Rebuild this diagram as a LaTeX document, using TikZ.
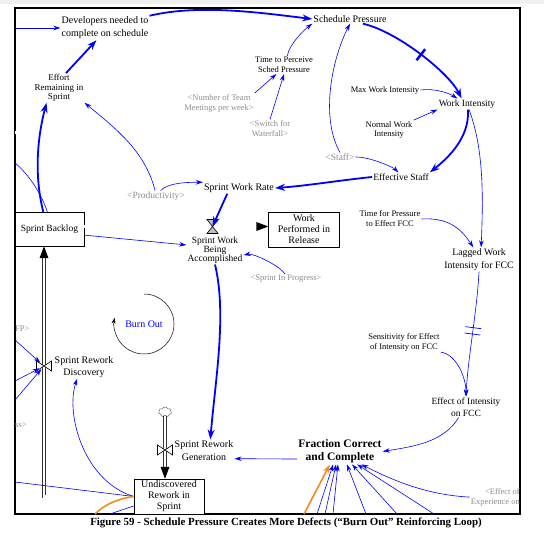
\documentclass[tikz,border=0pt]{standalone}
\usepackage{fontspec}
\setmainfont{Liberation Serif}
\usetikzlibrary{arrows.meta,shapes.symbols}

\definecolor{linkblue}{RGB}{0,0,255}
\definecolor{ghostgray}{RGB}{140,140,140}
\definecolor{burnorange}{RGB}{240,140,30}

\begin{document}
\begin{tikzpicture}[x=1pt,y=-1pt,
    var/.style={align=center,inner sep=1pt,font=\fontsize{9.5}{10}\selectfont},
    smallvar/.style={var,font=\fontsize{8.5}{10}\selectfont},
    shadowvar/.style={smallvar,text=ghostgray},
    stock/.style={draw,fill=white,align=center,inner sep=0pt,minimum width=70pt,minimum height=35pt,font=\fontsize{10}{11}\selectfont},
    link/.style={linkblue,line width=0.6pt,-{Stealth[length=7pt,width=4.5pt]}},
    biglink/.style={linkblue,line width=1.8pt,-{Stealth[length=10pt,width=7pt]}},
    pipe/.style={draw=black!80,double=white,double distance=2.4pt,line width=0.6pt},
    dbar/.style={fill=linkblue,inner sep=0pt,minimum width=0.7pt,minimum height=16pt,sloped},
    bigbar/.style={fill=linkblue,inner sep=0pt,minimum width=2.5pt,minimum height=14pt,sloped},
    hvalve/.pic={\draw [fill=white,line width=0.6pt] (-7.5,-5) -- (7.5,5) -- (7.5,-5) -- (-7.5,5) -- cycle;},
    vvalve/.pic={\draw [fill=black!25,line width=0.6pt] (-5.5,-7) -- (5.5,-7) -- (-5.5,7) -- (5.5,7) -- cycle;}]
    \useasboundingbox (0,0) rectangle (544,534);
    \fill [black!6] (0,0) rectangle (544,4);
    \draw [line width=1.1pt] (15,8) rectangle (520,514);

    % variables
    \node [var,font=\fontsize{10}{13}\selectfont] (Dev) at (105,28) {Developers needed to\\complete on schedule};
    \node [var,font=\fontsize{10}{12}\selectfont] (SchedP) at (350,19) {Schedule Pressure};
    \node [var,font=\fontsize{9}{9.5}\selectfont] (Effort) at (59,88) {Effort\\Remaining in\\Sprint};
    \node [smallvar] (TimeP) at (284,65) {Time to Perceive\\Sched Pressure};
    \node [shadowvar] (Meet) at (219,103) {<Number of Team\\Meetings per week>};
    \node [shadowvar,font=\fontsize{8.5}{9.5}\selectfont] (Switch) at (270,128.5) {<Switch for\\Waterfall>};
    \node [shadowvar,font=\fontsize{9.5}{10}\selectfont] (Staff) at (340,157) {<Staff>};
    \node [smallvar] (MaxWI) at (385,90) {Max Work Intensity};
    \node [var] (WorkI) at (467,104) {Work Intensity};
    \node [smallvar,font=\fontsize{8.5}{9.5}\selectfont] (NormWI) at (389,130) {Normal Work\\Intensity};
    \node [var] (EffStaff) at (401,177) {Effective Staff};
    \node [var,font=\fontsize{10}{12}\selectfont] (Rate) at (239,188) {Sprint Work Rate};
    \node [shadowvar,font=\fontsize{9.5}{10}\selectfont] (Prod) at (156,196) {<Productivity>};
    \node [var,font=\fontsize{9.5}{9}\selectfont] (Accomp) at (215,250) {Sprint Work\\Being\\Accomplished};
    \node [shadowvar] (InProg) at (286,279) {<Sprint In Progress>};
    \node [var,font=\fontsize{10}{12}\selectfont,text=linkblue] (Burn) at (144,324) {Burn Out};
    \node [var,font=\fontsize{10}{12}\selectfont] (Discov) at (84,367) {Sprint Rework\\Discovery};
    \node [var,font=\fontsize{10}{12.5}\selectfont] (Gener) at (204,450.5) {Sprint Rework\\Generation};
    \node [var,font=\bfseries\fontsize{11.5}{13}\selectfont] (FCC) at (340,451.5) {Fraction Correct\\and Complete};
    \node [var,font=\fontsize{9.5}{12}\selectfont] (EffInt) at (466,407) {Effect of Intensity\\on FCC};
    \node [smallvar] (Sens) at (404,342) {Sensitivity for Effect\\of Intensity on FCC};
    \node [var,font=\fontsize{9.8}{13}\selectfont] (Lagged) at (479,259.5) {Lagged Work\\Intensity for FCC};
    \node [smallvar] (TimeFCC) at (390,219) {Time for Pressure\\to Effect FCC};
    \node [shadowvar,align=right,anchor=north east] (ExpFCC) at (521,487) {<Effect of\\Experience on};
    \node [shadowvar,anchor=west,inner sep=0pt] (CutFP) at (15,329) {FP>};
    \node [shadowvar,anchor=west,inner sep=0pt] (CutSs) at (15,425) {ss>};
    \node [cloud,draw=black!70,fill=white,cloud puffs=7,minimum width=13pt,minimum height=10pt,inner sep=0pt] (Cloud) at (165,412) {};

    % valves
    \coordinate (V1) at (212.5,226.5);
    \coordinate (V2) at (44,366);
    \coordinate (V3) at (165,450);

    % free ends at the frame
    \coordinate (DevIn) at (15,28);
    \coordinate (PipeIn) at (15,132.5);
    \coordinate (LeftD) at (15,163);
    \coordinate (LeftA) at (15,340);
    \coordinate (LeftB) at (15,381);
    \coordinate (LeftC) at (15,400);
    \coordinate (LeftE) at (15,482);
    \coordinate (BotB) at (95,514);
    \coordinate (BotA) at (110,514);
    \coordinate (BotC) at (304,514);
    \coordinate (BotD) at (317,514);
    \coordinate (BotE) at (325,514);
    \coordinate (BotF) at (333,514);
    \coordinate (BotG) at (366,514);
    \coordinate (BotH) at (397,514);
    \coordinate (BotI) at (434,514);

    % thin link and pipe under the backlog
    \draw [linkblue,line width=0.6pt] (LeftD) .. controls +(15,12) and +(-4,-20) .. (49.5,220);
    \draw [pipe,draw=black!40] (PipeIn) -| (49.5,212);

    % stocks
    \node [stock,minimum width=69pt,minimum height=34pt,font=\fontsize{9.5}{11}\selectfont] (Backlog) at (49.5,229) {Sprint Backlog};
    \node [stock,minimum width=71pt] (Perf) at (304,229.5) {Work\\Performed in\\Release};
    \node [stock] (Undisc) at (169,496.5) {Undiscovered\\Rework in\\Sprint};

    % pipes
    \draw [pipe,shorten >=11pt] (Backlog.east |- V1) -- (Perf.west |- V1);
    \fill (Perf.west |- V1) -- ++(-12,-4.5) -- ++(0,9) -- cycle;
    \draw [pipe,shorten >=11pt] (Undisc.west) -| (V2 |- Backlog.south);
    \fill (V2 |- Backlog.south) -- ++(-4.5,12) -- ++(9,0) -- cycle;
    \draw [pipe,shorten >=11pt] (Cloud.south) -- (Cloud.south |- Undisc.north);
    \fill (Cloud.south |- Undisc.north) -- ++(-4.5,-12) -- ++(9,0) -- cycle;
    \pic at (V1) {vvalve};
    \pic at (V2) {hvalve};
    \pic at (V3) {hvalve};

    % main loop
    \draw [biglink] (Dev.north east) .. controls +(50,-12) and +(-50,-6) .. (SchedP.west);
    \draw [biglink] (Effort.65) -- (Dev.235);
    \draw [biglink] (Backlog.110) .. controls +(-10,-40) and +(-8,30) .. (Effort.230);
    \draw [biglink] (SchedP.-20) .. controls +(35,8) and +(-12,-25) .. (WorkI.135) node [bigbar,pos=0.5] {};
    \draw [biglink] (WorkI.-80) .. controls +(2,30) and +(15,-12) .. (EffStaff.north east);
    \draw [biglink] (EffStaff.west) .. controls +(-30,3) and +(30,-2) .. (Rate.east);
    \draw [biglink] (Rate.206) -- (V1);
    \draw [biglink] (Accomp.south) .. controls +(12,50) and +(5,-60) .. (Gener.60);

    % thin links
    \draw [link] (DevIn) -- (Dev.west);
    \draw [link] (TimeP.70) .. controls +(2,-12) and +(-8,6) .. (SchedP.south west);
    \draw [link] (Meet.north east) -- (TimeP.230);
    \draw [link] (Switch.north) -- (TimeP.south);
    \draw [link] (Staff.north) .. controls +(-20,-35) and +(-18,35) .. (SchedP.south);
    \draw [link] (Staff.east) .. controls +(15,0) and +(-5,-5) .. (EffStaff.120);
    \draw [link] (MaxWI.east) .. controls +(15,-2) and +(-8,-5) .. (WorkI.150);
    \draw [link] (NormWI.north east) -- (WorkI.south west);
    \draw [link] (WorkI.-70) .. controls +(15,40) and +(2,-50) .. (Lagged.80);
    \draw [link] (Prod.100) .. controls +(-10,-40) and +(30,25) .. (Effort.-30);
    \draw [link] (Prod.50) .. controls +(8,-8) and +(-15,0) .. (Rate.north west);
    \draw [link] (Backlog.-10) -- (Accomp.170);
    \draw [link] (InProg.100) .. controls +(-5,-8) and +(10,-2) .. (Accomp.-10);
    \draw [link] (TimeFCC.east) .. controls +(30,-2) and +(-10,-15) .. (Lagged.115);
    \draw [link] (Lagged.south) .. controls +(-2,40) and +(2,-40) .. (EffInt.north) node [dbar,pos=0.45] {} node [dbar,pos=0.5] {};
    \draw [link] (Sens.south east) .. controls +(15,2) and +(0,-20) .. (EffInt.north);
    \draw [link] (EffInt.235) .. controls +(-15,25) and +(30,-5) .. (FCC.east);
    \draw [link] (FCC.190) -- (Gener.-15);
    \draw [link] (Undisc.west) .. controls +(-50,-15) and +(-12,35) .. (Discov.240);
    \draw [link,shorten >=5pt] (LeftA) -- (V2);
    \draw [link,shorten >=5pt] (LeftB) -- (V2);
    \draw [link,shorten >=4pt] (LeftC) -- (V2);
    \draw [linkblue,line width=0.6pt] (LeftE) -- (Undisc.west);
    \draw [linkblue,line width=0.6pt] (BotA) -- (Undisc.195);
    \draw [burnorange,line width=1.6pt] (BotB) .. controls +(10,-10) and +(-15,2) .. (Undisc.west);

    % links into fraction correct
    \draw [link,burnorange,line width=1.6pt,-{Stealth[length=9pt,width=6pt]}] (BotC) -- (FCC.232);
    \draw [link] (BotD) -- (FCC.242);
    \draw [link] (BotE) -- (FCC.253);
    \draw [link] (BotF) -- (FCC.261);
    \draw [link] (BotG) -- (FCC.298);
    \draw [link] (BotH) -- (FCC.313);
    \draw [link] (BotI) -- (FCC.323);
    \draw [link] (ExpFCC.west) .. controls +(-40,-2) and +(35,18) .. (FCC.329);

    % burn out loop
    \draw [-{Stealth[length=6pt,width=4pt]},line width=0.5pt] ([shift={(0,-30)}]Burn.center) arc [start angle=-90,end angle=192,radius=30];

    \node [font=\bfseries\fontsize{10.9}{12}\selectfont] (Caption) at (286,522.5) {Figure 59 - Schedule Pressure Creates More Defects (``Burn Out'' Reinforcing Loop)};
\end{tikzpicture}
\end{document}
